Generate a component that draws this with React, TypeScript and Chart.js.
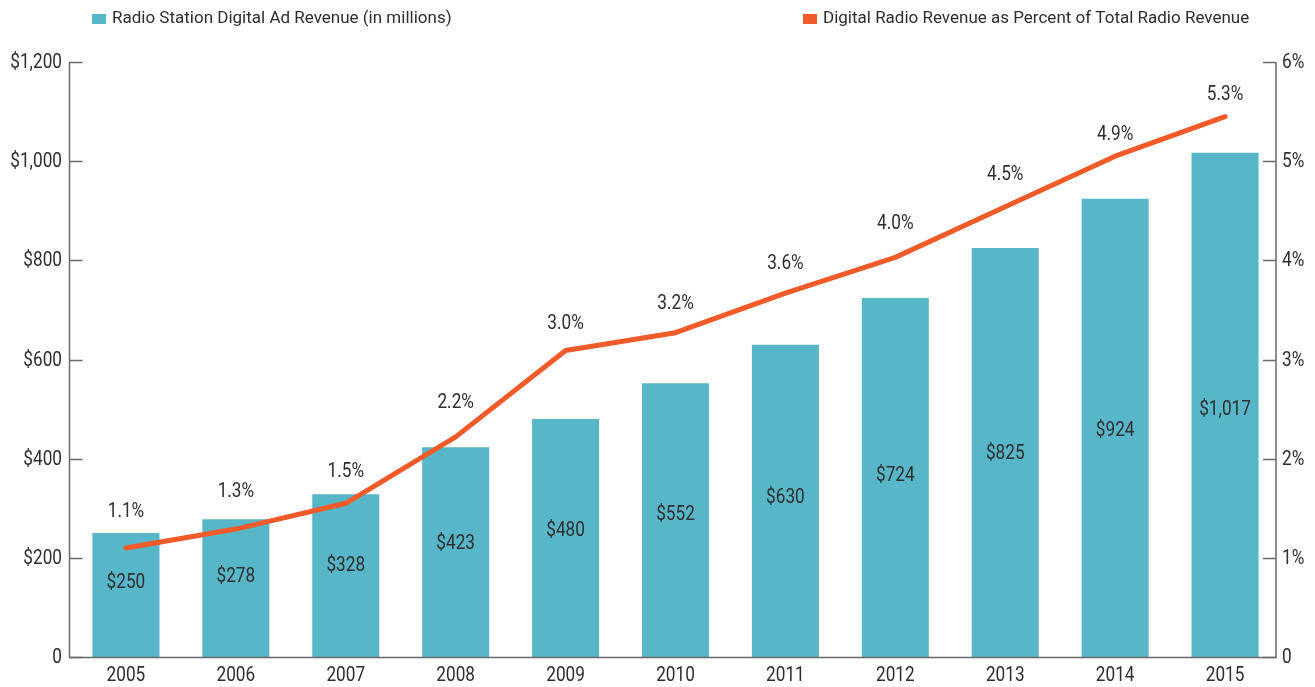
import React, { useEffect, useRef } from "react";
import { Chart, registerables } from "chart.js";

Chart.register(...registerables);

const years = ["2005", "2006", "2007", "2008", "2009", "2010", "2011", "2012", "2013", "2014", "2015"];
const revenue = [250, 278, 328, 423, 480, 552, 630, 724, 825, 924, 1017];
const revenueLabels = ["$250", "$278", "$328", "$423", "$480", "$552", "$630", "$724", "$825", "$924", "$1,017"];
const percentPlotted = [1.1, 1.29, 1.55, 2.22, 3.09, 3.27, 3.67, 4.03, 4.54, 5.05, 5.45];
const percentLabelValues = [1.1, 1.3, 1.5, 2.2, 3.0, 3.2, 3.6, 4.0, 4.5, 4.9, 5.3];
const percentLabels = ["1.1%", "1.3%", "1.5%", "2.2%", "3.0%", "3.2%", "3.6%", "4.0%", "4.5%", "4.9%", "5.3%"];
const leftTickLabels = ["0", "$200", "$400", "$600", "$800", "$1,000", "$1,200"];
const rightTickLabels = ["0", "1%", "2%", "3%", "4%", "5%", "6%"];
const legendBar = "Radio Station Digital Ad Revenue (in millions)";
const legendLine = "Digital Radio Revenue as Percent of Total Radio Revenue";

const FONT = "Roboto, 'DejaVu Sans', sans-serif";
const TEXT = "#2e2e2e";
const BAR = "#57b6c8";
const LINE = "#f15a29";
const AXIS = "#6a6a6a";
const SX = 0.86;

function text(ctx: any, s: string, x: number, y: number, align: string, size: number, sx = SX) {
  ctx.save();
  ctx.font = `${size}px ${FONT}`;
  ctx.textAlign = align;
  ctx.textBaseline = "middle";
  ctx.fillStyle = TEXT;
  ctx.translate(x, y);
  ctx.scale(sx, 1);
  ctx.fillText(s, 0, 0);
  ctx.restore();
}

const overlay = {
  id: "overlay",
  afterDraw(chart: any) {
    const ctx = chart.ctx;
    const xS = chart.scales.x;
    const yL = chart.scales.y;
    const yR = chart.scales.y1;
    const area = chart.chartArea;
    const axL = 69.5;
    const axR = 1276;
    const axB = Math.round(yL.getPixelForValue(0)) + 0.5;
    ctx.save();
    ctx.strokeStyle = AXIS;
    ctx.lineWidth = 1.5;
    // axis lines
    ctx.beginPath();
    ctx.moveTo(axL, area.top);
    ctx.lineTo(axL, axB);
    ctx.lineTo(axR, axB);
    ctx.lineTo(axR, area.top);
    ctx.stroke();
    // inward tick marks + labels
    yL.ticks.forEach((t: any, i: number) => {
      const py = Math.round(yL.getPixelForValue(t.value)) + 0.5;
      ctx.beginPath();
      ctx.moveTo(axL, py);
      ctx.lineTo(axL + 13, py);
      ctx.stroke();
      text(ctx, leftTickLabels[i], 62, py, "right", 20);
    });
    yR.ticks.forEach((t: any, i: number) => {
      const py = Math.round(yR.getPixelForValue(t.value)) + 0.5;
      ctx.beginPath();
      ctx.moveTo(axR - 13, py);
      ctx.lineTo(axR, py);
      ctx.stroke();
      text(ctx, rightTickLabels[i], 1282, py, "left", 20);
    });
    // category labels
    years.forEach((yr, i) => {
      text(ctx, yr, xS.getPixelForValue(i), 676, "center", 20);
    });
    // bar value labels
    const barMeta = chart.getDatasetMeta(0);
    barMeta.data.forEach((el: any, i: number) => {
      const py = yL.getPixelForValue(revenue[i] * 0.455 + 35);
      text(ctx, revenueLabels[i], el.x, py, "center", 20);
    });
    // percent labels
    const lineMeta = chart.getDatasetMeta(1);
    lineMeta.data.forEach((el: any, i: number) => {
      const py = yR.getPixelForValue(percentLabelValues[i]) - 36;
      text(ctx, percentLabels[i], el.x, py, "center", 20);
    });
    // legend
    ctx.fillStyle = BAR;
    ctx.fillRect(92, 14, 14, 10);
    ctx.fillStyle = LINE;
    ctx.fillRect(803, 14, 14, 10);
    text(ctx, legendBar, 112, 19, "left", 17, 1.0);
    text(ctx, legendLine, 823, 19, "left", 17, 1.0);
    ctx.restore();
  },
};

export default function App() {
  const ref = useRef<HTMLCanvasElement>(null);
  useEffect(() => {
    if (!ref.current) return;
    const chart = new Chart(ref.current, {
      type: "bar",
      data: {
        labels: years,
        datasets: [
          {
            type: "bar",
            label: legendBar,
            data: revenue,
            backgroundColor: BAR,
            barPercentage: 0.61,
            categoryPercentage: 1,
            yAxisID: "y",
            order: 1,
          },
          {
            type: "line",
            label: legendLine,
            data: percentPlotted,
            borderColor: LINE,
            backgroundColor: LINE,
            borderWidth: 5,
            pointRadius: 0,
            borderCapStyle: "round",
            borderJoinStyle: "round",
            tension: 0,
            yAxisID: "y1",
            order: 0,
          } as any,
        ],
      },
      options: {
        animation: false,
        responsive: false,
        maintainAspectRatio: false,
        layout: { padding: { top: 62, left: 0, right: 0, bottom: 0 } },
        plugins: { legend: { display: false }, tooltip: { enabled: false } },
        scales: {
          x: {
            grid: { display: false },
            border: { display: false },
            ticks: { display: false },
            afterFit: (s: any) => { s.height = 30; },
          },
          y: {
            position: "left",
            min: 0,
            max: 1200,
            grid: { display: false },
            border: { display: false },
            ticks: { stepSize: 200, display: false },
            afterFit: (s: any) => { s.width = 71; },
          },
          y1: {
            position: "right",
            min: 0,
            max: 6,
            grid: { display: false },
            border: { display: false },
            ticks: { stepSize: 1, display: false },
            afterFit: (s: any) => { s.width = 35; },
          },
        },
      },
      plugins: [overlay],
    });
    return () => chart.destroy();
  }, []);
  return (
    <div style={{ position: "fixed", left: 0, top: 0, width: 1315, height: 687, background: "#fff" }}>
      <canvas ref={ref} width={1315} height={687} style={{ width: 1315, height: 687 }} />
    </div>
  );
}
